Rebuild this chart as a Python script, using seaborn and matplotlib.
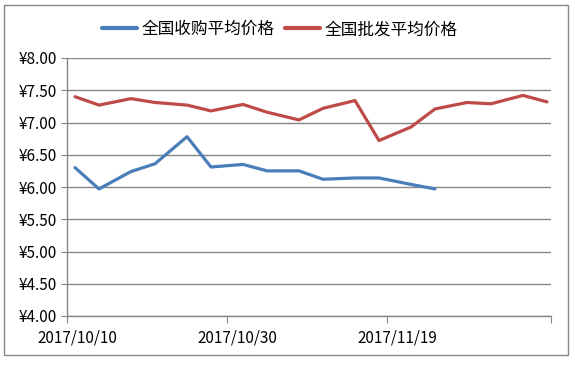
import pandas as pd
import matplotlib.pyplot as plt
from matplotlib.patches import Rectangle
import seaborn as sns

# survey dates (twice a week)
dates = ['2017/10/11', '2017/10/14', '2017/10/18', '2017/10/21', '2017/10/25',
         '2017/10/28', '2017/11/01', '2017/11/04', '2017/11/08', '2017/11/11',
         '2017/11/15', '2017/11/18', '2017/11/22', '2017/11/25', '2017/11/29',
         '2017/12/02', '2017/12/06', '2017/12/09']
buy_price = [6.30, 5.97, 6.24, 6.36, 6.78, 6.31, 6.35, 6.25, 6.25, 6.12,
             6.14, 6.14, 6.04, 5.97]
sell_price = [7.40, 7.27, 7.37, 7.31, 7.27, 7.18, 7.28, 7.16, 7.04, 7.22,
              7.34, 6.72, 6.93, 7.21, 7.31, 7.29, 7.42, 7.32]
names = ['全国收购平均价格', '全国批发平均价格']
tick_dates = ['2017/10/10', '2017/10/30', '2017/11/19']
yticks = [4.0, 4.5, 5.0, 5.5, 6.0, 6.5, 7.0, 7.5, 8.0]

start = pd.Timestamp('2017/10/10')
day = (pd.to_datetime(dates) - start).days
df = pd.concat([
    pd.DataFrame({'day': day[:len(buy_price)], 'price': buy_price, 'name': names[0]}),
    pd.DataFrame({'day': day, 'price': sell_price, 'name': names[1]}),
])

sns.set_style('white')
plt.rcParams['font.family'] = ['Noto Sans CJK SC', 'DejaVu Sans']
plt.rcParams['text.color'] = 'black'

fig = plt.figure(figsize=(5.75, 3.66), dpi=100)
ax = fig.add_axes([67/575, 1 - 316/366, 484/575, 258/366])

sns.lineplot(data=df, x='day', y='price', hue='name', hue_order=names,
             palette=['#4A7EBB', '#BE4B48'], linewidth=2.3, ax=ax)

ax.set_xlim(0, 60.5)
ax.set_ylim(4, 8)
ax.set_yticks(yticks)
ax.set_yticklabels(['¥%.2f' % v for v in yticks], fontsize=11, color='black')
tick_days = list((pd.to_datetime(tick_dates) - start).days)
# tick marks every 20 days, labels sit a little right of each mark
ax.set_xticks(tick_days + [60.5])
ax.set_xticklabels([])
ax.set_xticks([d + 1.25 for d in tick_days], minor=True)
ax.set_xticklabels(tick_dates, minor=True, fontsize=11, color='black')
ax.set_xlabel('')
ax.set_ylabel('')
ax.grid(axis='y', color='#868686', linewidth=1)
ax.set_axisbelow(True)
for s in ['top', 'right']:
    ax.spines[s].set_visible(False)
for s in ['left', 'bottom']:
    ax.spines[s].set_color('#868686')
    ax.spines[s].set_linewidth(1)
ax.tick_params(axis='x', which='major', bottom=True, length=5, color='#868686')
ax.tick_params(axis='x', which='minor', bottom=True, length=0, pad=10)
ax.tick_params(axis='y', left=True, length=4, color='#868686', pad=3)

leg = ax.legend(loc='center', bbox_to_anchor=(0.44, 1.11), ncol=2, frameon=False,
                fontsize=12, handlelength=2.1, columnspacing=0.6, handletextpad=0.3)
for line in leg.get_lines():
    line.set_linewidth(3)

fig.patches.append(Rectangle((4/575, 1 - 355/366), 564/575, 350/366,
                             transform=fig.transFigure, fill=False,
                             edgecolor='#868686', linewidth=1))

fig.savefig('out.png', dpi=100)
